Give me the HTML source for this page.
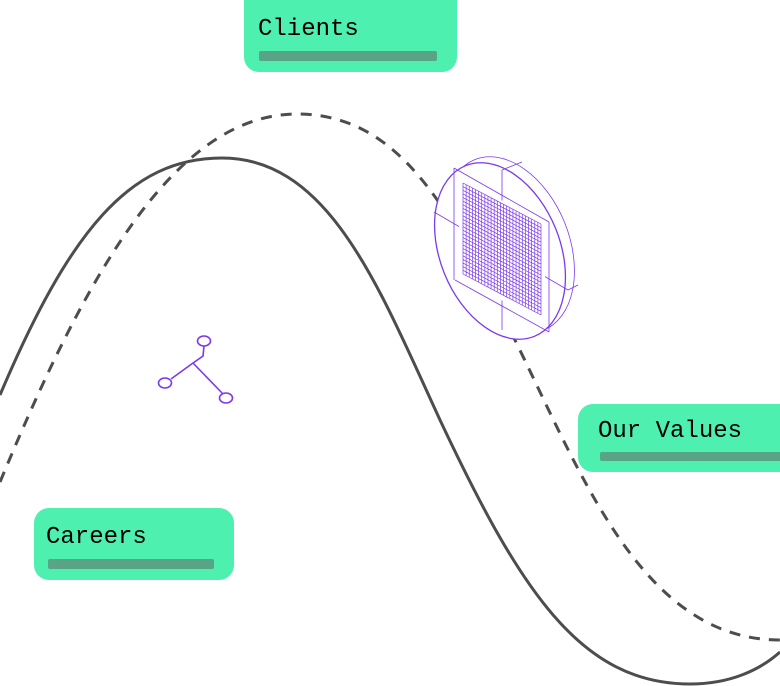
<!DOCTYPE html>
<html><head><meta charset="utf-8"><style>
html,body{margin:0;padding:0;background:#fff;}
body{width:780px;height:686px;overflow:hidden;position:relative;}
svg{position:absolute;left:0;top:0;}
.t{font-family:"Liberation Mono","DejaVu Sans Mono",monospace;font-size:24px;fill:#000;}
</style></head><body>
<svg width="780" height="686" viewBox="0 0 780 686" xmlns="http://www.w3.org/2000/svg">
<path d="M0,482 C80,290 170,114 297,114 C400,114 450,210 510,330 C580,470 640,640 780,640" fill="none" stroke="#4d4d4d" stroke-width="3" stroke-dasharray="11,9"/>
<path d="M0,395 C70,230 130,158 222,158 C330,158 380,290 440,420 C520,590 580,684 690,684 C730,684 760,670 780,652" fill="none" stroke="#4d4d4d" stroke-width="3"/>
<g stroke="#7c3aed" fill="none">
<ellipse cx="509" cy="245" rx="60" ry="92" transform="rotate(-22 509 245)" fill="#fff" stroke-width="0.8"/>
<ellipse cx="500" cy="251" rx="60" ry="92" transform="rotate(-22 500 251)" fill="#fff" stroke-width="1.3"/>
<g stroke-width="0.8">
<line x1="454" y1="168" x2="454" y2="280"/>
<line x1="502" y1="170" x2="502" y2="330"/>
<line x1="549" y1="222" x2="549" y2="332"/>
<line x1="454" y1="168" x2="549" y2="222"/>
<line x1="434" y1="212" x2="568" y2="290"/>
<line x1="455" y1="280" x2="549" y2="332"/>
<line x1="502" y1="170" x2="522" y2="162"/>
<line x1="568" y1="290" x2="578" y2="285"/>
</g>
<path d="M459,178 L545,223 L545,323 L459,278 Z" fill="#fff" stroke="none"/>
<g transform="matrix(78,41,0,91,463,183)" stroke-width="0.7">
<path vector-effect="non-scaling-stroke" d="M0,0H1M0,.04H1M0,.08H1M0,.12H1M0,.16H1M0,.2H1M0,.24H1M0,.28H1M0,.32H1M0,.36H1M0,.4H1M0,.44H1M0,.48H1M0,.52H1M0,.56H1M0,.6H1M0,.64H1M0,.68H1M0,.72H1M0,.76H1M0,.8H1M0,.84H1M0,.88H1M0,.92H1M0,.96H1M0,1H1M0,0V1M.04,0V1M.08,0V1M.12,0V1M.16,0V1M.2,0V1M.24,0V1M.28,0V1M.32,0V1M.36,0V1M.4,0V1M.44,0V1M.48,0V1M.52,0V1M.56,0V1M.6,0V1M.64,0V1M.68,0V1M.72,0V1M.76,0V1M.8,0V1M.84,0V1M.88,0V1M.92,0V1M.96,0V1M1,0V1"/>
</g>
</g>
<g stroke="#7c3aed" stroke-width="1.6" fill="#fff">
<path d="M204,346 L203,356 L193,363 L171,379 M193,363 L223,394" fill="none"/>
<ellipse cx="204" cy="341" rx="6.5" ry="5"/>
<ellipse cx="165" cy="383" rx="6.5" ry="5"/>
<ellipse cx="226" cy="398" rx="6.5" ry="5"/>
</g>
<rect x="244" y="-20" width="213" height="92" rx="15" fill="#4df0ae"/>
<rect x="259" y="51" width="178" height="10" rx="2" fill="#58a486"/>
<text class="t" x="258" y="35">Clients</text>
<rect x="578" y="404" width="230" height="68" rx="15" fill="#4df0ae"/>
<rect x="600" y="452" width="190" height="9" rx="2" fill="#58a486"/>
<text class="t" x="598" y="437">Our Values</text>
<rect x="34" y="508" width="200" height="72" rx="15" fill="#4df0ae"/>
<rect x="48" y="559" width="166" height="10" rx="2" fill="#58a486"/>
<text class="t" x="46" y="543">Careers</text>
</svg>
</body></html>
